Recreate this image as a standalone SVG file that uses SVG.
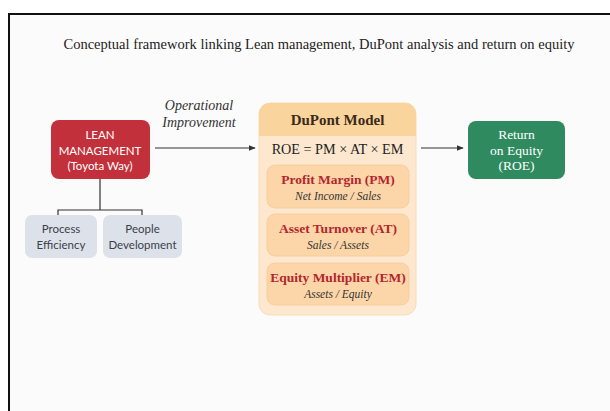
<svg xmlns="http://www.w3.org/2000/svg" width="610" height="411" viewBox="0 0 610 411">
<defs>
<marker id="ah" viewBox="0 0 10 10" refX="9" refY="5" markerWidth="7" markerHeight="7" orient="auto" markerUnits="userSpaceOnUse">
<path d="M0,1 L10,5 L0,9 Z" fill="#333"/>
</marker>
<clipPath id="hdr"><rect x="259" y="103" width="157" height="33"/></clipPath>
</defs>
<style>
.serif{font-family:"Liberation Serif","DejaVu Serif",serif}
.sans{font-family:"Lato","Open Sans","Liberation Sans",sans-serif}
.wt{fill:#ffffff;font-size:11.5px;text-anchor:middle}
.rt{fill:#ffffff;font-size:13.5px;text-anchor:middle}
.gt{fill:#3a3f4a;font-size:11.5px;text-anchor:middle}
.sub{fill:#fcd6a8;stroke:#f7c994;stroke-width:0.8}
.st{fill:#b3262e;font-size:13.5px;font-weight:bold;text-anchor:middle}
.si{fill:#333;font-size:11.5px;font-style:italic;text-anchor:middle}
.conn{stroke:#333;stroke-width:1.2;fill:none}
</style>
<rect x="0" y="0" width="610" height="411" fill="#ffffff"/>
<rect x="9" y="14" width="610" height="410" fill="#fcfbfb" stroke="#111" stroke-width="2"/>
<text class="serif" x="319" y="49" font-size="14.5" fill="#222" text-anchor="middle">Conceptual framework linking Lean management, DuPont analysis and return on equity</text>

<g id="connectors">
<path class="conn" d="M100,179 V210 M58,216 V210 H142 V216"/>
<line class="conn" x1="155" y1="148" x2="255" y2="148" marker-end="url(#ah)"/>
<line class="conn" x1="421" y1="148" x2="463" y2="148" marker-end="url(#ah)"/>
<text class="serif" x="199" y="110" font-size="14" font-style="italic" fill="#333" text-anchor="middle">Operational</text>
<text class="serif" x="199" y="127" font-size="14" font-style="italic" fill="#333" text-anchor="middle">Improvement</text>
</g>

<g id="lean">
<rect x="51" y="120" width="99" height="59" rx="8" fill="#c2313b"/>
<text class="sans wt" x="100" y="139">LEAN</text>
<text class="sans wt" x="100" y="155">MANAGEMENT</text>
<text class="sans wt" x="100" y="170">(Toyota Way)</text>
</g>

<g id="process">
<rect x="25" y="215" width="72" height="43" rx="7" fill="#dde2ea"/>
<text class="sans gt" x="61" y="233">Process</text>
<text class="sans gt" x="61" y="249">Efficiency</text>
</g>

<g id="people">
<rect x="103" y="215" width="79" height="43" rx="7" fill="#dde2ea"/>
<text class="sans gt" x="142.5" y="233">People</text>
<text class="sans gt" x="142.5" y="249">Development</text>
</g>

<g id="dupont">
<rect x="259" y="103" width="157" height="212" rx="11" fill="#fde8cf" stroke="#fbdcb4" stroke-width="1"/>
<rect x="259" y="103" width="157" height="44" rx="11" fill="#fad49d" clip-path="url(#hdr)"/>
<text class="serif" x="337.5" y="125" font-size="15" font-weight="bold" fill="#3a2a1a" text-anchor="middle">DuPont Model</text>
<text class="serif" x="337.5" y="154" font-size="14.2" fill="#222" text-anchor="middle">ROE = PM × AT × EM</text>
</g>

<g id="pm">
<rect class="sub" x="267" y="165" width="142" height="43" rx="8"/>
<text class="serif st" x="338" y="184">Profit Margin (PM)</text>
<text class="serif si" x="338" y="200">Net Income / Sales</text>
</g>

<g id="at">
<rect class="sub" x="267" y="214" width="142" height="42" rx="8"/>
<text class="serif st" x="338" y="233">Asset Turnover (AT)</text>
<text class="serif si" x="338" y="249">Sales / Assets</text>
</g>

<g id="em">
<rect class="sub" x="267" y="263" width="142" height="42" rx="8"/>
<text class="serif st" x="338" y="282">Equity Multiplier (EM)</text>
<text class="serif si" x="338" y="298">Assets / Equity</text>
</g>

<g id="roe">
<rect x="468" y="121" width="97" height="58" rx="8" fill="#2f8a5f"/>
<text class="serif rt" x="516.5" y="139">Return</text>
<text class="serif rt" x="516.5" y="155">on Equity</text>
<text class="serif rt" x="516.5" y="170">(ROE)</text>
</g>
</svg>
